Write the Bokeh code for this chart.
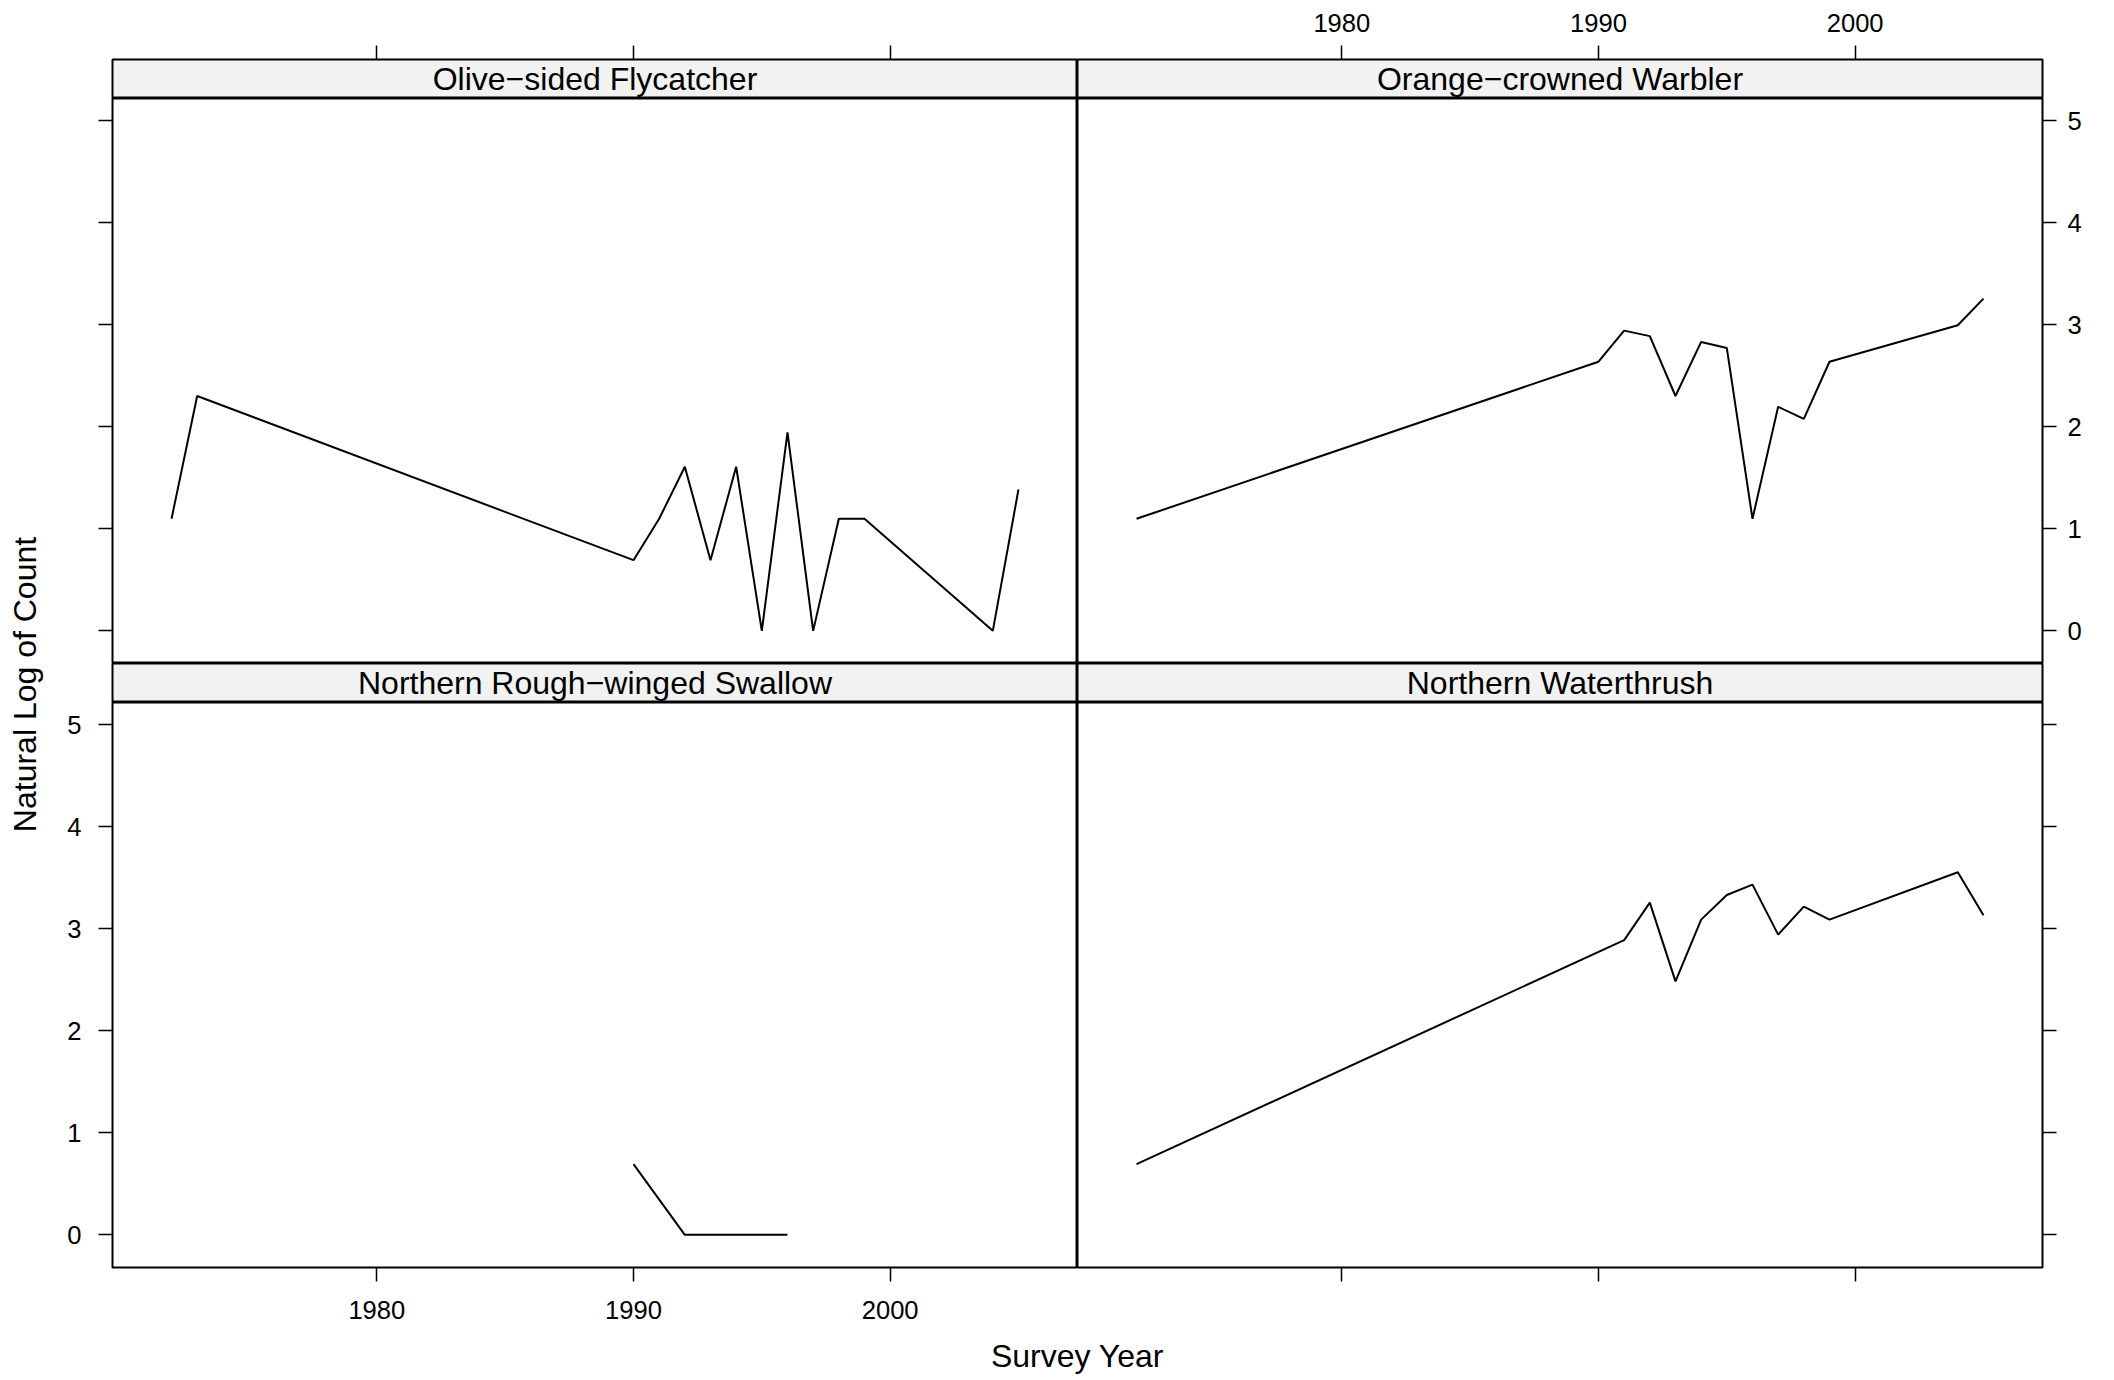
import math
from bokeh.plotting import figure
from bokeh.layouts import row, column
from bokeh.models import Range1d, Label, LinearAxis, FixedTicker
from bokeh.embed import file_html
from bokeh.resources import INLINE

# ---------------- data ----------------
species = ["Olive\u2212sided Flycatcher", "Orange\u2212crowned Warbler",
           "Northern Rough\u2212winged Swallow", "Northern Waterthrush"]

ols_years = [1972, 1973, 1990, 1991, 1992, 1993, 1994, 1995, 1996, 1997, 1998, 1999, 2004, 2005]
ols_logc = [1.099, 2.303, 0.693, 1.099, 1.609, 0.693, 1.609, 0.0, 1.946, 0.0, 1.099, 1.099, 0.0, 1.386]

ocw_years = [1972, 1990, 1991, 1992, 1993, 1994, 1995, 1996, 1997, 1998, 1999, 2004, 2005]
ocw_logc = [1.099, 2.639, 2.944, 2.890, 2.303, 2.833, 2.773, 1.099, 2.197, 2.079, 2.639, 2.996, 3.258]

nrws_years = [1990, 1992, 1993, 1994, 1995, 1996]
nrws_logc = [0.693, 0.0, 0.0, 0.0, 0.0, 0.0]

nw_years = [1972, 1991, 1992, 1993, 1994, 1995, 1996, 1997, 1998, 1999, 2004, 2005]
nw_logc = [0.693, 2.890, 3.258, 2.485, 3.091, 3.332, 3.434, 2.944, 3.219, 3.091, 3.555, 3.135]

x_ticks = [1980, 1990, 2000]
y_ticks = [0, 1, 2, 3, 4, 5]
x_title = "Survey Year"
y_title = "Natural Log of Count"

# ---------------- styling / layout ----------------
FONT = "Liberation Sans"
TICK_FS = "25.6px"
MAIN_FS = "32px"
X_LO, X_HI = 1969.7, 2007.3
Y_LO, Y_HI = -0.32, 5.22
FW, PH, SH = 965, 565, 39
LB, RB, TB, BB = 56, 56, 59, 62
YLAB_W = 56
XLAB_H = 46
OUT_W = 2


def make_axis(ticks, show_labels, standoff):
    ax = LinearAxis(ticker=FixedTicker(ticks=ticks),
                    major_tick_in=0, major_tick_out=14,
                    major_tick_line_color="black", major_tick_line_width=1.5,
                    minor_tick_line_color=None, axis_line_color=None,
                    major_label_text_font=FONT, major_label_text_font_size=TICK_FS,
                    major_label_text_color="black" if show_labels else None,
                    major_label_standoff=standoff)
    return ax


def base_fig(fh, yr, left, right, top, bottom, bg="white"):
    p = figure(frame_width=FW, frame_height=fh,
               x_range=Range1d(X_LO, X_HI), y_range=yr,
               toolbar_location=None, output_backend="svg",
               x_axis_location=None, y_axis_location=None,
               min_border=0, min_border_left=left, min_border_right=right,
               min_border_top=top, min_border_bottom=bottom,
               background_fill_color=bg, border_fill_color="white",
               outline_line_color="black", outline_line_width=OUT_W)
    p.grid.visible = False
    return p


def strip_fig(name, left, right, top):
    p = base_fig(SH, Range1d(0, 1), left, right, top, 0, bg="#F2F2F2")
    p.add_layout(Label(x=(X_LO + X_HI) / 2, y=0.5, text=name,
                       text_align="center", text_baseline="middle",
                       text_font=FONT, text_font_size=MAIN_FS, text_color="black"))
    return p


def panel_fig(xs, ys, left, right, bottom):
    p = base_fig(PH, Range1d(Y_LO, Y_HI), left, right, 0, bottom)
    p.line(xs, ys, line_color="black", line_width=2)
    return p


# top row strips
s_tl = strip_fig(species[0], LB, 0, TB)
s_tl.add_layout(make_axis(x_ticks, False, 14), "above")
s_tr = strip_fig(species[1], 0, RB, TB)
s_tr.add_layout(make_axis(x_ticks, True, 14), "above")

# top row panels
p_tl = panel_fig(ols_years, ols_logc, LB, 0, 0)
p_tl.add_layout(make_axis(y_ticks, False, 17), "left")
p_tr = panel_fig(ocw_years, ocw_logc, 0, RB, 0)
p_tr.add_layout(make_axis(y_ticks, True, 11), "right")

# bottom row strips
s_bl = strip_fig(species[2], LB, 0, 0)
s_br = strip_fig(species[3], 0, RB, 0)

# bottom row panels
p_bl = panel_fig(nrws_years, nrws_logc, LB, 0, BB)
p_bl.add_layout(make_axis(y_ticks, True, 17), "left")
p_bl.add_layout(make_axis(x_ticks, True, 19), "below")
p_br = panel_fig(nw_years, nw_logc, 0, RB, BB)
p_br.add_layout(make_axis(y_ticks, False, 11), "right")
p_br.add_layout(make_axis(x_ticks, False, 19), "below")

# x-axis title strip
total_w = LB + FW + FW + RB
xl = figure(frame_width=total_w, frame_height=XLAB_H,
            x_range=Range1d(0, total_w), y_range=Range1d(0, XLAB_H),
            toolbar_location=None, output_backend="svg",
            x_axis_location=None, y_axis_location=None, min_border=0,
            outline_line_color=None, background_fill_color="white",
            border_fill_color="white")
xl.grid.visible = False
xl.add_layout(Label(x=LB + FW, y=20, text=x_title, text_align="center",
                    text_baseline="middle", text_font=FONT,
                    text_font_size=MAIN_FS, text_color="black"))

grid = column(row(s_tl, s_tr), row(p_tl, p_tr), row(s_bl, s_br),
              row(p_bl, p_br), xl, spacing=0)

total_h = (TB + SH) + PH + SH + (PH + BB) + XLAB_H
yl = figure(frame_width=YLAB_W, frame_height=total_h,
            x_range=Range1d(0, YLAB_W), y_range=Range1d(0, total_h),
            toolbar_location=None, output_backend="svg",
            x_axis_location=None, y_axis_location=None, min_border=0,
            outline_line_color=None, background_fill_color="white",
            border_fill_color="white")
yl.grid.visible = False
yl.add_layout(Label(x=24, y=total_h - 684, text=y_title, angle=math.pi / 2,
                    text_align="center", text_baseline="middle",
                    text_font=FONT, text_font_size=MAIN_FS, text_color="black"))

layout = row(yl, grid, spacing=0)

open("out.html", "w").write(file_html(layout, INLINE))
